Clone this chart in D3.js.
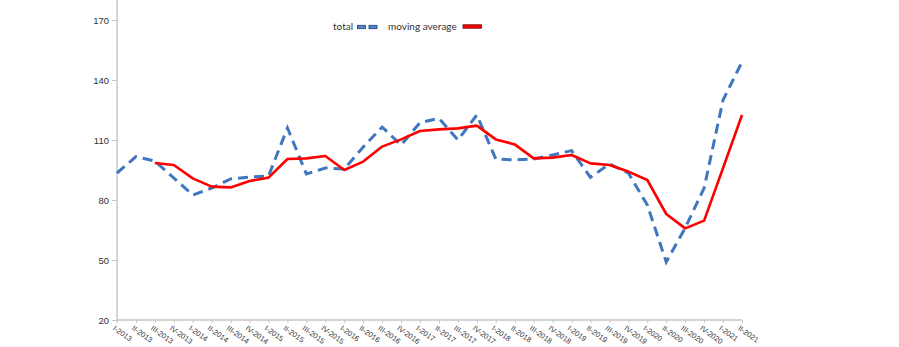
<!DOCTYPE html>
<html><head><meta charset="utf-8">
<script src="https://cdn.jsdelivr.net/npm/d3@7"></script>
<style>body{margin:0;background:#fff}svg{display:block}</style>
</head><body>
<script>
const categories = ["I-2013","II-2013","III-2013","IV-2013","I-2014","II-2014","III-2014","IV-2014",
"I-2015","II-2015","III-2015","IV-2015","I-2016","II-2016","III-2016","IV-2016",
"I-2017","II-2017","III-2017","IV-2017","I-2018","II-2018","III-2018","IV-2018",
"I-2019","II-2019","III-2019","IV-2019","I-2020","II-2020","III-2020","IV-2020",
"I-2021","II-2021"];
const total = [93.5,101.7,99.5,91,82.5,86,90.5,91.5,
92,116,93,96,95.5,106.5,116.5,107.5,
118.7,120.8,110,122.5,100.5,100,100.5,102.5,
104.7,91.3,98,93.5,77.5,49,66,86,
130,149];
const movingAverage = [null,null,98.5,97.5,90.8,86.7,86.3,89.5,
91.2,100.5,100.8,102,95,99.2,106.7,110.3,
114.5,115.3,115.8,117.2,110.3,107.8,100.8,101.2,
102.5,98.3,97.5,94.2,90,73,65.8,69.7,
96,122.5];
const yTicks = [20,50,80,110,140,170];
const seriesNames = ["total","moving average"];

const W=899,H=347;
const svg=d3.select("body").append("svg").attr("width",W).attr("height",H);
const x=d3.scalePoint().domain(categories).range([117,742]);
const y=d3.scaleLinear().domain([20,180]).range([320,0]);

// y axis
const yAxis=svg.append("g").attr("transform","translate(117,0)")
  .call(d3.axisLeft(y).tickValues(yTicks).tickSize(5).tickPadding(3).tickFormat(d3.format("d")));
yAxis.select(".domain").attr("d","M0,0V320").attr("stroke","#c6c6c6").attr("stroke-width",1.5);
yAxis.selectAll(".tick line").attr("stroke","#c6c6c6");
yAxis.selectAll("text").attr("font-family","'Liberation Sans',Arial,sans-serif").attr("font-size",9.5).attr("fill","#333");

// x axis
const xAxis=svg.append("g").attr("transform","translate(0,320)")
  .call(d3.axisBottom(x).tickSize(3).tickFormat(""));
xAxis.select(".domain").attr("d","M117,0H742").attr("stroke","#c6c6c6").attr("stroke-width",1.5);
xAxis.selectAll(".tick line").attr("stroke","#c6c6c6");
xAxis.selectAll(".tick").append("text")
  .attr("transform","translate(-2,5) rotate(36)")
  .attr("text-anchor","start").attr("dy","0.7em")
  .attr("font-family","'Liberation Sans',Arial,sans-serif").attr("font-size",7.5)
  .attr("fill","#333").text(d=>d);

// lines
const line=d3.line().defined(d=>d.v!=null).x(d=>x(d.c)).y(d=>y(d.v));
svg.append("path").datum(categories.map((c,i)=>({c,v:total[i]})))
  .attr("d",line).attr("fill","none").attr("stroke","#3f77bf").attr("stroke-width",3)
  .attr("stroke-dasharray","10,6");
svg.append("path").datum(categories.map((c,i)=>({c,v:movingAverage[i]})))
  .attr("d",line).attr("fill","none").attr("stroke","#ff0000").attr("stroke-width",2.6)
  .attr("stroke-linejoin","round");

// legend
const lg=svg.append("g").attr("font-family","Lato,'Liberation Sans',sans-serif").attr("font-size",10).attr("fill","#333");
lg.append("text").attr("x",333).attr("y",30).text(seriesNames[0]);
lg.append("rect").attr("x",357.5).attr("y",25.3).attr("width",8).attr("height",3.4).attr("fill","#4f86cf").attr("stroke","#1f3f6f").attr("stroke-width",0.8);
lg.append("rect").attr("x",369).attr("y",25.3).attr("width",8).attr("height",3.4).attr("fill","#4f86cf").attr("stroke","#1f3f6f").attr("stroke-width",0.8);
lg.append("text").attr("x",388).attr("y",30).text(seriesNames[1]);
lg.append("rect").attr("x",463).attr("y",24.8).attr("width",18.5).attr("height",3.4).attr("fill","#ff0000").attr("stroke","#6a0000").attr("stroke-width",0.8);
</script>
</body></html>
